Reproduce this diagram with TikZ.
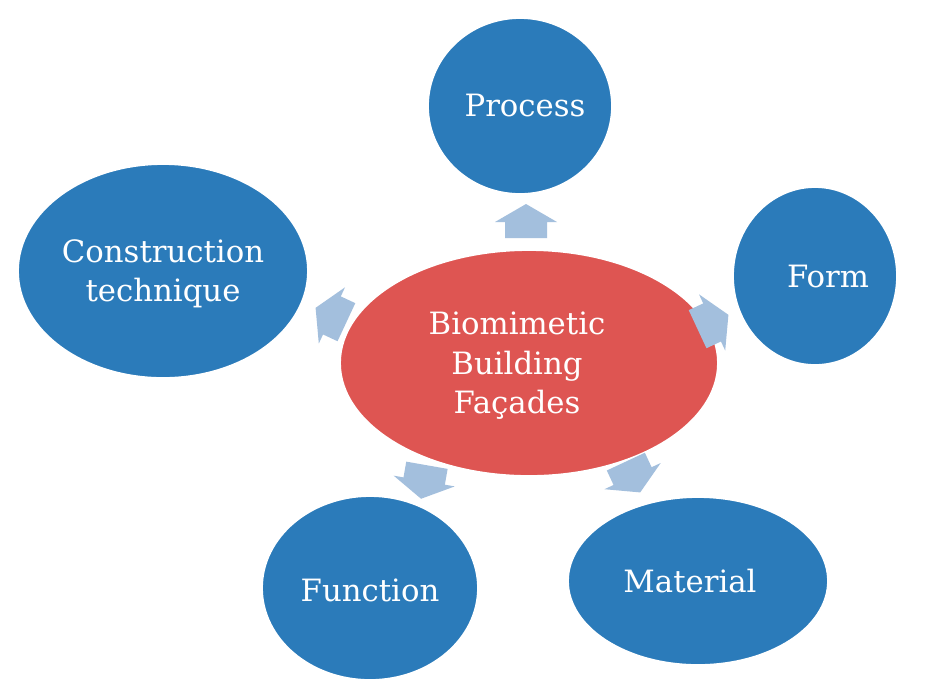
\documentclass[tikz,border=0pt]{standalone}
\usepackage{fontspec}
\setmainfont{DejaVu Serif}
\usetikzlibrary{shapes.geometric}
\definecolor{nodeblue}{HTML}{2B7BBA}
\definecolor{nodered}{HTML}{DE5552}
\definecolor{arrowblue}{HTML}{A3BFDD}
\tikzset{
  bubble/.style={ellipse, fill=nodeblue, draw=white, line width=1pt, inner sep=0pt},
  hub/.style={bubble, fill=nodered},
  label/.style={text=white, align=center, inner sep=0pt, font=\fontsize{17.5}{22.5}\selectfont},
  barrow/.pic={\fill[arrowblue] (-17,-21) -- (-1,-21) -- (-1,-31) -- (17,0) -- (-1,31) -- (-1,21) -- (-17,21) -- cycle;}
}
\begin{document}
\begin{tikzpicture}[x=0.02cm,y=-0.02cm]
\useasboundingbox[fill=white] (0,0) rectangle (935,684);
\node[hub, minimum width=7.56cm, minimum height=4.52cm] (c) at (529,363) {};
\node[bubble, minimum width=3.68cm, minimum height=3.52cm] (p) at (520,106) {};
\node[bubble, minimum width=3.28cm, minimum height=3.56cm] (f) at (815,276) {};
\node[bubble, minimum width=5.8cm, minimum height=4.28cm] (t) at (163,271) {};
\node[bubble, minimum width=4.32cm, minimum height=3.68cm] (u) at (370,588) {};
\node[bubble, minimum width=5.2cm, minimum height=3.36cm] (m) at (698,581) {};
\node[label] (ctext) at ([xshift=-0.24cm,yshift=-0.06cm]c.center) {Biomimetic\\Building\\Façades};
\node[label] (ptext) at ([xshift=0.1cm]p.center) {Process};
\node[label] (ftext) at ([xshift=0.26cm]f.center) {Form};
\node[label] (ttext) at ([yshift=-0.06cm]t.center) {Construction\\technique};
\node[label] (utext) at ([yshift=-0.04cm]u.center) {Function};
\node[label] (mtext) at ([xshift=-0.16cm]m.center) {Material};
\pic[rotate=90] at (526,221) {barrow};
\pic[rotate=25] at (713,322) {barrow};
\pic[rotate=155] at (331,315) {barrow};
\pic[rotate=-100] at (424,482) {barrow};
\pic[rotate=-65] at (633,477) {barrow};
\end{tikzpicture}
\end{document}
